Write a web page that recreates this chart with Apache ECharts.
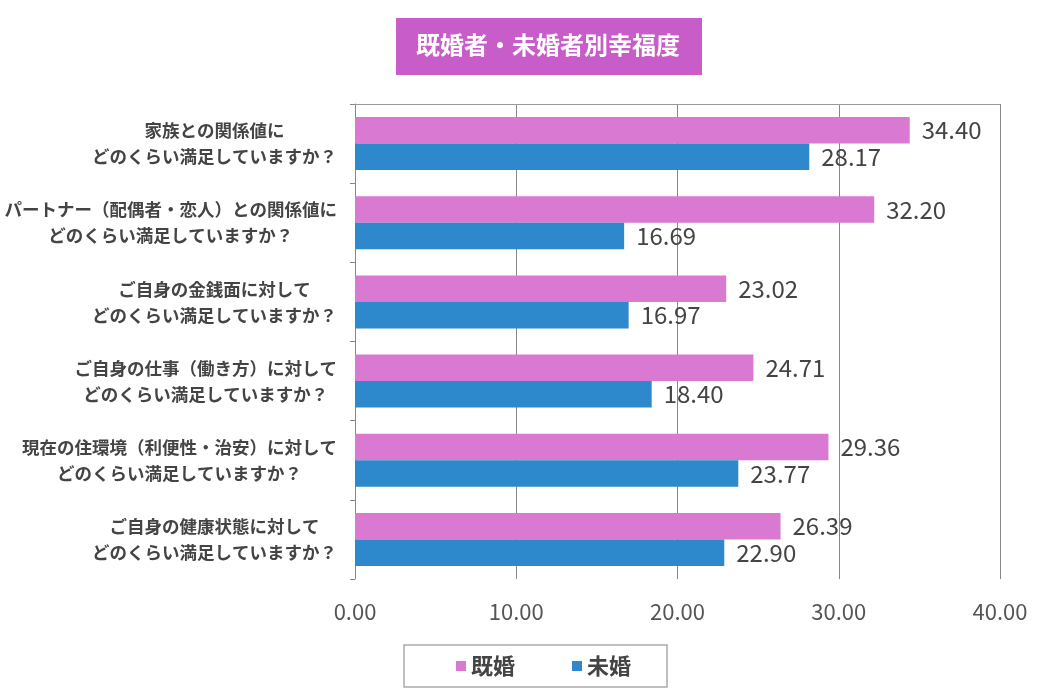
<!DOCTYPE html>
<html>
<head>
<meta charset="utf-8">
<script src="https://cdn.jsdelivr.net/npm/echarts@6/dist/echarts.min.js"></script>
<style>
  html, body { margin: 0; padding: 0; background: #fff; }
  #chart { width: 1040px; height: 693px; }
</style>
</head>
<body>
<div id="chart"></div>
<script>
const categories = [
  '家族との関係値に\nどのくらい満足していますか？',
  'パートナー（配偶者・恋人）との関係値に\nどのくらい満足していますか？',
  'ご自身の金銭面に対して\nどのくらい満足していますか？',
  'ご自身の仕事（働き方）に対して\nどのくらい満足していますか？',
  '現在の住環境（利便性・治安）に対して\nどのくらい満足していますか？',
  'ご自身の健康状態に対して\nどのくらい満足していますか？'
]
const married = [34.40, 32.20, 23.02, 24.71, 29.36, 26.39]
const unmarried = [28.17, 16.69, 16.97, 18.40, 23.77, 22.90]
const seriesNames = ['既婚', '未婚']
const xTicks = [0, 10, 20, 30, 40]

const FONT = '"Noto Sans CJK JP", "Noto Sans", sans-serif'
const chart = echarts.init(document.getElementById('chart'))

const barLabel = {
  show: true,
  position: 'right',
  distance: 12,
  color: '#444',
  fontSize: 24,
  fontFamily: FONT,
  formatter: (p) => p.value.toFixed(2)
}

const option = {
  backgroundColor: '#fff',
  textStyle: { fontFamily: FONT },
  title: {
    text: '既婚者・未婚者別幸福度',
    left: 396,
    top: 18,
    backgroundColor: '#C85CC8',
    padding: [15, 22, 18, 20],
    textStyle: {
      color: '#fff',
      fontSize: 24,
      fontWeight: 'bold',
      fontFamily: FONT
    }
  },
  legend: {
    data: seriesNames,
    left: 404,
    top: 645,
    borderColor: '#aaa',
    borderWidth: 1.5,
    padding: [10, 36, 10, 52],
    itemWidth: 10,
    itemHeight: 10,
    itemGap: 57,
    icon: 'rect',
    textStyle: {
      color: '#444',
      fontSize: 22,
      fontWeight: 'bold',
      fontFamily: FONT
    }
  },
  grid: {
    left: 355,
    right: 40,
    top: 104,
    bottom: 114,
    containLabel: false
  },
  xAxis: [
    {
      type: 'value',
      min: xTicks[0],
      max: xTicks[xTicks.length - 1],
      interval: 10,
      axisLine: { show: false },
      axisTick: { show: false },
      splitLine: { show: true, lineStyle: { color: '#888', width: 1 } },
      axisLabel: {
        margin: 22,
        color: '#555',
        fontSize: 22,
        fontFamily: FONT,
        formatter: (v) => v.toFixed(2)
      }
    },
    {
      // 上側の枠線だけ
      type: 'value',
      position: 'top',
      min: xTicks[0],
      max: xTicks[xTicks.length - 1],
      axisLine: { show: true, lineStyle: { color: '#999', width: 1 } },
      axisTick: { show: false },
      axisLabel: { show: false },
      splitLine: { show: false }
    }
  ],
  yAxis: {
    type: 'category',
    inverse: true,
    data: categories,
    axisLine: { show: true, lineStyle: { color: '#888', width: 1 } },
    axisTick: { show: true, length: 5, lineStyle: { color: '#888' } },
    axisLabel: {
      margin: 18,
      align: 'right',
      formatter: (v) => v.split('\n').map((s) => '{c|' + s + '}').join('\n'),
      rich: {
        c: {
          align: 'center',
          color: '#444',
          fontSize: 17.5,
          fontWeight: 'bold',
          lineHeight: 26,
          fontFamily: FONT
        }
      }
    }
  },
  series: [
    {
      type: 'bar',
      name: seriesNames[0],
      xAxisIndex: 0,
      data: married,
      barGap: '0%',
      barCategoryGap: '33%',
      itemStyle: { color: '#D979D2' },
      label: barLabel
    },
    {
      type: 'bar',
      name: seriesNames[1],
      xAxisIndex: 0,
      data: unmarried,
      barGap: '0%',
      barCategoryGap: '33%',
      itemStyle: { color: '#2E88CC' },
      label: barLabel
    }
  ]
}

chart.setOption(option)
</script>
</body>
</html>
